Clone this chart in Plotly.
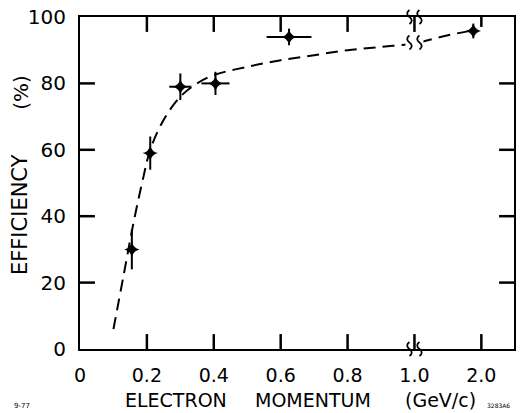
import plotly.graph_objects as go

# ---- data (momentum in GeV/c, efficiency in %) ----
mom = [0.155, 0.21, 0.30, 0.405, 0.625, 1.88]
eff = [30, 59, 79, 80, 94, 95.8]
eff_err = [6, 5, 4, 3.5, 2.5, 2.2]
mom_err = [0.005, 0.008, 0.033, 0.042, 0.067, 0.06]

curve_mom = [0.10, 0.13, 0.16, 0.19, 0.21, 0.25, 0.30, 0.35, 0.40, 0.50,
             0.60, 0.70, 0.80, 0.90, 1.00, 1.20, 1.50, 1.88]
curve_eff = [6, 22, 38, 52, 60, 69, 76, 80, 82.5, 85,
             87, 88.5, 90, 91, 92, 93, 94.5, 96]

tick_vals_mom = [0, 0.2, 0.4, 0.6, 0.8, 1.0, 2.0]
tick_text = ["0", "0.2", "0.4", "0.6", "0.8", "1.0", "2.0"]
y_ticks = [0, 20, 40, 60, 80, 100]

# broken axis: above 1.0 GeV/c the scale is compressed 5x
def disp(x):
    return x if x <= 1.0 else 1.0 + (x - 1.0) * 0.2

def disp_err(x, e):
    return e if x <= 1.0 else e * 0.2

FONT = "DejaVu Sans"

L, R, T, B = 80, 5, 15, 64
W, H = 521, 413
pw, ph = W - L - R, H - T - B
XMAX = 436 / 336
YMAX = 100

def px(x):
    return (x - L) / pw

def py(y):
    return (H - B - y) / ph

fig = go.Figure()

# inward tick marks on all four sides, drawn as a line trace
TL = 15
dx_len = TL * XMAX / pw
dy_len = TL * YMAX / ph
tx, ty = [], []
for v in tick_vals_mom[1:]:
    xv = disp(v)
    top_len = dy_len * (10 / 15 if v > 1.0 else 1)
    tx += [xv, xv, None, xv, xv, None]
    ty += [0, dy_len, None, YMAX, YMAX - top_len, None]
for v in y_ticks[1:-1]:
    tx += [0, dx_len, None, XMAX, XMAX - dx_len, None]
    ty += [v, v, None, v, v, None]
fig.add_trace(go.Scatter(x=tx, y=ty, mode="lines", line=dict(color="black", width=2.5),
                         hoverinfo="skip", cliponaxis=False, connectgaps=False))

fig.add_trace(go.Scatter(
    x=[disp(v) for v in curve_mom], y=curve_eff, mode="lines",
    line=dict(color="black", width=2, dash="12px,7px", shape="spline"),
    hoverinfo="skip"))
fig.add_trace(go.Scatter(
    x=[disp(v) for v in mom], y=eff, mode="markers",
    marker=dict(symbol="star-diamond", size=11, color="black"),
    error_y=dict(type="data", array=eff_err, color="black", thickness=2, width=0),
    error_x=dict(type="data", array=[disp_err(m, e) for m, e in zip(mom, mom_err)],
                 color="black", thickness=2, width=0)))

axis_common = dict(ticks="", showline=True, linecolor="black", linewidth=2,
                   mirror=True, showgrid=False, zeroline=False, ticklabelstandoff=8)

fig.update_layout(
    width=W, height=H, margin=dict(l=L, r=R, t=T, b=B),
    paper_bgcolor="white", plot_bgcolor="white", showlegend=False,
    font=dict(family=FONT, color="black"),
    xaxis=dict(range=[0, XMAX], tickmode="array",
               tickvals=[disp(v) for v in tick_vals_mom], ticktext=tick_text,
               tickfont=dict(size=19, family=FONT), **axis_common),
    yaxis=dict(range=[0, YMAX], tickmode="array", tickvals=y_ticks,
               tickfont=dict(size=20, family=FONT), **axis_common),
)

ann = []
# axis titles
for txt, cx in [("ELECTRON", 176), ("MOMENTUM", 314), ("(GeV/c)", 442)]:
    ann.append(dict(text=txt, x=px(cx), y=py(400), xref="paper", yref="paper",
                    showarrow=False, font=dict(size=19), xanchor="center", yanchor="middle"))
for txt, cy, fs in [("EFFICIENCY", 214, 21), ("(%)", 91, 20)]:
    ann.append(dict(text=txt, x=px(20), y=py(cy), xref="paper", yref="paper",
                    showarrow=False, font=dict(size=fs), textangle=-90,
                    xanchor="center", yanchor="middle"))
# small labels
ann.append(dict(text="9-77", x=px(22), y=py(406), xref="paper", yref="paper",
                showarrow=False, font=dict(size=7), xanchor="center", yanchor="middle"))
ann.append(dict(text="3283A6", x=px(500), y=py(406), xref="paper", yref="paper",
                showarrow=False, font=dict(size=6), xanchor="center", yanchor="middle"))
fig.update_layout(annotations=ann)

shapes = []
# axis-break squiggles (pixel-sized paths anchored at x = 1.0)
for anchor_y, yref in [(1.0, "paper"), (0.0, "paper"), (92.3, "y")]:
    if yref == "y":
        shapes.append(dict(type="rect", xref="x", yref="y", xsizemode="pixel",
                           ysizemode="pixel", xanchor=1.0, yanchor=anchor_y,
                           x0=-9, x1=9, y0=-4, y1=4,
                           fillcolor="white", line=dict(width=0)))
    for dx in (-5, 5):
        pts = [(dx, -7), (dx + 3, -5), (dx + 3, -2), (dx, 0),
               (dx - 3, 2), (dx - 3, 5), (dx, 7)]
        path = (f"M {pts[0][0]} {pts[0][1]} C {pts[1][0]} {pts[1][1]}, {pts[2][0]} {pts[2][1]}, "
                f"{pts[3][0]} {pts[3][1]} C {pts[4][0]} {pts[4][1]}, {pts[5][0]} {pts[5][1]}, "
                f"{pts[6][0]} {pts[6][1]}")
        shapes.append(dict(type="path", xref="x", yref=yref, xsizemode="pixel",
                           ysizemode="pixel", xanchor=1.0, yanchor=anchor_y,
                           path=path, line=dict(color="black", width=1.8)))
fig.update_layout(shapes=shapes)

fig.write_html("out.html")
